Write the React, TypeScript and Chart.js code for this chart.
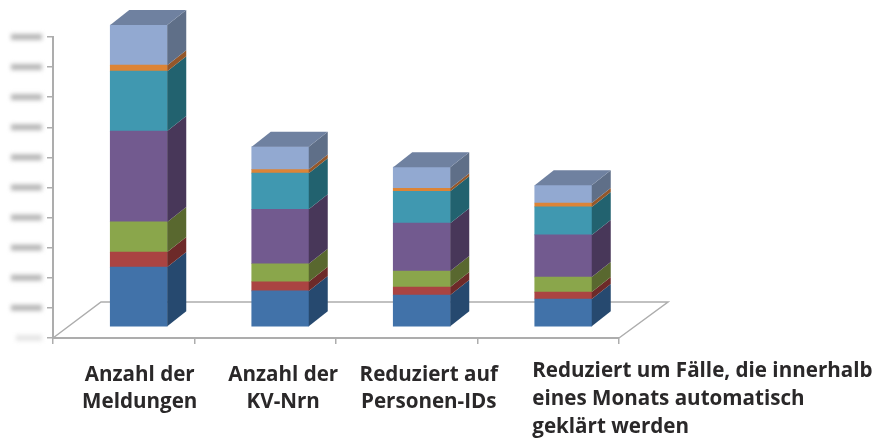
import React, { useEffect, useRef } from "react";
import { Chart, registerables } from "chart.js";

Chart.register(...registerables);

const categories = [
  ["Anzahl der", "Meldungen"],
  ["Anzahl der", "KV-Nrn"],
  ["Reduziert auf", "Personen-IDs"],
  ["Reduziert um Fälle, die innerhalb", "eines Monats automatisch", "geklärt werden"],
];

const blueValues = [19.9, 12.0, 10.6, 9.3];
const redValues = [5.0, 3.0, 2.7, 2.3];
const greenValues = [10.0, 6.0, 5.3, 5.0];
const purpleValues = [30.2, 18.1, 15.9, 14.0];
const tealValues = [19.9, 12.0, 10.6, 9.3];
const orangeValues = [2.0, 1.2, 1.0, 1.3];
const lightBlueValues = [13.3, 7.6, 7.0, 5.9];
const tickValues = [0, 10, 20, 30, 40, 50, 60, 70, 80, 90, 100];

const seriesColors = ["#4172a9", "#aa4442", "#8aa64b", "#725a8f", "#4098b0", "#dc8436", "#92a9d1"];
const sideColors = ["#26496f", "#6d2a29", "#59682f", "#483759", "#22626f", "#94572a", "#5f6f88"];
const topColor = "#6f81a0";
const axisColor = "#adadad";
const floorColor = "#adadad";
const textColor = "#2a2829";

const DEPTH_X = 19;
const DEPTH_Y = 15;
const BAR_SHIFT_X = 15;
const BAR_SHIFT_Y = 11;

const labelStyle = [
  { dx: 16, baseline: 381, align: "center", step: 27 },
  { dx: 18, baseline: 381, align: "center", step: 27 },
  { dx: 22, baseline: 381, align: "center", step: 27 },
  { dx: -16, baseline: 377, align: "left", step: 28 },
];

const threeD = {
  id: "threeD",
  beforeDatasetsDraw(chart: any) {
    const { ctx, chartArea: a } = chart;
    ctx.save();
    ctx.strokeStyle = floorColor;
    ctx.lineWidth = 1.5;
    ctx.beginPath();
    ctx.moveTo(a.left, a.bottom);
    ctx.lineTo(a.left + 48, a.bottom - 36);
    ctx.lineTo(a.right + 49, a.bottom - 36);
    ctx.lineTo(a.right, a.bottom);
    ctx.stroke();
    ctx.restore();
    ctx.save();
    ctx.translate(BAR_SHIFT_X, -BAR_SHIFT_Y);
  },
  afterDatasetsDraw(chart: any) {
    const { ctx } = chart;
    const n = chart.data.datasets.length;
    for (let d = 0; d < n; d++) {
      chart.getDatasetMeta(d).data.forEach((bar: any) => {
        const { x, y, base, width } = bar.getProps(["x", "y", "base", "width"], true);
        const r = x + width / 2;
        const l = x - width / 2;
        ctx.fillStyle = sideColors[d];
        ctx.beginPath();
        ctx.moveTo(r, y);
        ctx.lineTo(r + DEPTH_X, y - DEPTH_Y);
        ctx.lineTo(r + DEPTH_X, base - DEPTH_Y);
        ctx.lineTo(r, base);
        ctx.closePath();
        ctx.fill();
        if (d === n - 1) {
          ctx.fillStyle = topColor;
          ctx.beginPath();
          ctx.moveTo(l, y);
          ctx.lineTo(l + DEPTH_X, y - DEPTH_Y);
          ctx.lineTo(r + DEPTH_X, y - DEPTH_Y);
          ctx.lineTo(r, y);
          ctx.closePath();
          ctx.fill();
        }
      });
    }
    ctx.restore();
  },
  afterDraw(chart: any) {
    const { ctx, scales } = chart;
    // category labels
    ctx.save();
    ctx.fillStyle = textColor;
    ctx.font = "700 20.6px 'Open Sans'";
    ctx.textBaseline = "alphabetic";
    chart.data.labels.forEach((lines: string[], i: number) => {
      const s = labelStyle[i];
      const centre = scales.x.getPixelForTick(i);
      ctx.textAlign = s.align;
      lines.forEach((line: string, k: number) => {
        ctx.fillText(line, centre + s.dx, s.baseline + k * s.step);
      });
    });
    ctx.restore();
    // blurred (illegible) value labels
    ctx.save();
    ctx.filter = "blur(2px)";
    scales.y.ticks.forEach((t: any, i: number) => {
      const y = scales.y.getPixelForValue(t.value);
      const g = ctx.createLinearGradient(0, y - 4.5, 0, y + 4.5);
      const alpha = i === 0 ? 0.3 : 0.85;
      g.addColorStop(0, `rgba(215,215,215,${alpha * 0.7})`);
      g.addColorStop(0.45, `rgba(150,150,150,${alpha})`);
      g.addColorStop(0.75, `rgba(190,190,190,${alpha})`);
      g.addColorStop(1, `rgba(225,225,225,${alpha * 0.6})`);
      ctx.fillStyle = g;
      ctx.fillRect(i === 0 ? 16 : 11, y - 3.5, i === 0 ? 26 : 31, 7);
    });
    ctx.restore();
  },
};

export default function App() {
  const ref = useRef<HTMLCanvasElement>(null);
  useEffect(() => {
    const seriesValues = [
      blueValues,
      redValues,
      greenValues,
      purpleValues,
      tealValues,
      orangeValues,
      lightBlueValues,
    ];
    const chart = new Chart(ref.current as HTMLCanvasElement, {
      type: "bar",
      data: {
        labels: categories as any,
        datasets: seriesValues.map((data, i) => ({
          data,
          backgroundColor: seriesColors[i],
          barThickness: 57,
          clip: false as any,
        })),
      },
      options: {
        responsive: false,
        animation: false,
        layout: { padding: { left: 0, top: 37, right: 876 - 619, bottom: 0 } },
        plugins: { legend: { display: false }, tooltip: { enabled: false } },
        scales: {
          x: {
            stacked: true,
            afterFit: (s: any) => {
              s.height = 440 - 338;
            },
            offset: true,
            border: { color: axisColor, width: 2 },
            grid: { offset: true, drawOnChartArea: false, drawTicks: true, tickLength: 6, color: axisColor, lineWidth: 1.5 },
            ticks: { display: false },
          },
          y: {
            stacked: true,
            min: 0,
            max: 100,
            afterFit: (s: any) => {
              s.width = 53;
            },
            afterBuildTicks: (s: any) => {
              s.ticks = tickValues.map((value) => ({ value }));
            },
            border: { color: axisColor, width: 2 },
            grid: { drawOnChartArea: false, drawTicks: true, tickLength: 6, color: axisColor, lineWidth: 1.5 },
            ticks: { display: false },
          },
        },
      },
      plugins: [threeD as any],
    });
    return () => chart.destroy();
  }, []);
  return (
    <div style={{ position: "fixed", left: 0, top: 0, width: 876, height: 440, background: "#fff" }}>
      <canvas ref={ref} width={876} height={440} style={{ display: "block" }} />
    </div>
  );
}
